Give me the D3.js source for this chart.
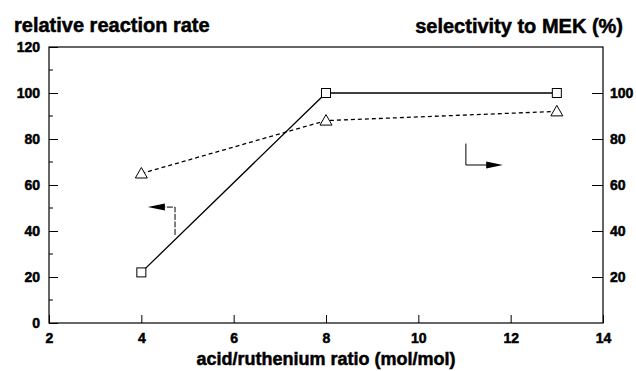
<!DOCTYPE html>
<html>
<head>
<meta charset="utf-8">
<script src="https://cdn.jsdelivr.net/npm/d3@7"></script>
<style>
  body { margin: 0; background: #fff; }
  text { font-family: "Liberation Sans", Arial, Helvetica, sans-serif; font-weight: bold; fill: #000; stroke: #000; stroke-width: 0.5px; }
</style>
</head>
<body>
<div id="chart"></div>
<script>
// acid/ruthenium ratio (mol/mol)
var ratios = [4, 8, 13];
// relative reaction rate (squares, solid line)
var reactionRate = [22, 100, 100];
// selectivity to MEK in % (triangles, dashed line)
var selectivity = [65, 88, 92];

var xTicks = [2, 4, 6, 8, 10, 12, 14];
var leftTicks = [0, 20, 40, 60, 80, 100, 120];
var rightTicks = [20, 40, 60, 80, 100];

var width = 636, height = 371;
var margin = { top: 47, right: 33, bottom: 48, left: 49 };
var w = width - margin.left - margin.right,
    h = height - margin.top - margin.bottom;

var svg = d3.select("#chart").append("svg")
    .attr("width", width)
    .attr("height", height);

var g = svg.append("g")
    .attr("transform", "translate(" + margin.left + "," + margin.top + ")");

var x = d3.scaleLinear().domain([2, 14]).range([0, w]);
var y = d3.scaleLinear().domain([0, 120]).range([h, 0]);
var y2 = d3.scaleLinear().domain([0, 120]).range([h, 0]);

// frame
g.append("rect")
    .attr("width", w).attr("height", h)
    .attr("fill", "none").attr("stroke", "#000").attr("stroke-width", 1.2);

// bottom axis, ticks pointing in
var xAxis = d3.axisBottom(x).tickValues(xTicks).tickSize(-8).tickPadding(10)
    .tickFormat(d3.format("d"));
g.append("g")
    .attr("class", "x axis")
    .attr("transform", "translate(0," + h + ")")
    .call(xAxis)
    .call(function(s) {
      s.select(".domain").remove();
      s.selectAll(".tick text").style("font-size", "14px");
    });

// left axis
var yAxis = d3.axisLeft(y).tickValues(leftTicks).tickSize(-9).tickPadding(9);
g.append("g")
    .attr("class", "y axis")
    .call(yAxis)
    .call(function(s) {
      s.select(".domain").remove();
      s.selectAll(".tick text").style("font-size", "14px");
    });

// left minor ticks
g.append("g").selectAll("line")
    .data(d3.range(10, 120, 20))
  .enter().append("line")
    .attr("x1", 0).attr("x2", 4)
    .attr("y1", function(d) { return y(d); })
    .attr("y2", function(d) { return y(d); })
    .attr("stroke", "#000").attr("stroke-width", 1);

// right axis
var yAxis2 = d3.axisRight(y2).tickValues(rightTicks).tickSize(-11).tickPadding(7);
g.append("g")
    .attr("class", "y2 axis")
    .attr("transform", "translate(" + w + ",0)")
    .call(yAxis2)
    .call(function(s) {
      s.select(".domain").remove();
      s.selectAll(".tick text").style("font-size", "14px");
    });

var rateData = ratios.map(function(r, i) { return { x: r, y: reactionRate[i] }; });
var selData = ratios.map(function(r, i) { return { x: r, y: selectivity[i] }; });

// reaction rate line
g.append("path")
    .datum(rateData)
    .attr("fill", "none")
    .attr("stroke", "#000")
    .attr("stroke-width", 1.3)
    .attr("d", d3.line()
      .x(function(d) { return x(d.x); })
      .y(function(d) { return y(d.y); }));

// selectivity line (dashed)
g.append("path")
    .datum(selData)
    .attr("fill", "none")
    .attr("stroke", "#000")
    .attr("stroke-width", 1.3)
    .attr("stroke-dasharray", "4,3")
    .attr("d", d3.line()
      .x(function(d) { return x(d.x); })
      .y(function(d) { return y2(d.y); }));

// square markers
g.selectAll(".sq")
    .data(rateData)
  .enter().append("rect")
    .attr("class", "sq")
    .attr("x", function(d) { return x(d.x) - 4.5; })
    .attr("y", function(d) { return y(d.y) - 4.5; })
    .attr("width", 9).attr("height", 9)
    .attr("fill", "#fff").attr("stroke", "#000").attr("stroke-width", 1);

// triangle markers
g.selectAll(".tri")
    .data(selData)
  .enter().append("path")
    .attr("class", "tri")
    .attr("transform", function(d) { return "translate(" + x(d.x) + "," + y2(d.y) + ")"; })
    .attr("d", "M0,-6L6,4.5L-6,4.5Z")
    .attr("fill", "#fff").attr("stroke", "#000").attr("stroke-width", 1);

// arrow pointing to left axis
g.append("path")
    .attr("d", "M" + x(4.73) + "," + y(38.3) + "V" + y(50.4) + "H" + x(4.5))
    .attr("fill", "none").attr("stroke", "#000").attr("stroke-width", 1)
    .attr("stroke-dasharray", "6,1.5");
g.append("path")
    .attr("d", "M" + x(4.14) + "," + y(50.4) + "L" + x(4.51) + "," + (y(50.4) - 3.5) + "L" + x(4.51) + "," + (y(50.4) + 3.5) + "Z")
    .attr("fill", "#000");

// arrow pointing to right axis
g.append("path")
    .attr("d", "M" + x(11.03) + "," + y2(78) + "V" + y2(68.7) + "H" + x(11.5))
    .attr("fill", "none").attr("stroke", "#000").attr("stroke-width", 1);
g.append("path")
    .attr("d", "M" + x(11.83) + "," + y2(68.7) + "L" + x(11.47) + "," + (y2(68.7) - 3.5) + "L" + x(11.47) + "," + (y2(68.7) + 3.5) + "Z")
    .attr("fill", "#000");

// titles
svg.append("text")
    .attr("x", 14).attr("y", 32)
    .style("font-size", "20px")
    .text("relative reaction rate");

svg.append("text")
    .attr("x", 623).attr("y", 33)
    .attr("text-anchor", "end")
    .style("font-size", "20px")
    .text("selectivity to MEK (%)");

svg.append("text")
    .attr("x", margin.left + w / 2).attr("y", 365)
    .attr("text-anchor", "middle")
    .style("font-size", "18px")
    .text("acid/ruthenium ratio (mol/mol)");
</script>
</body>
</html>
